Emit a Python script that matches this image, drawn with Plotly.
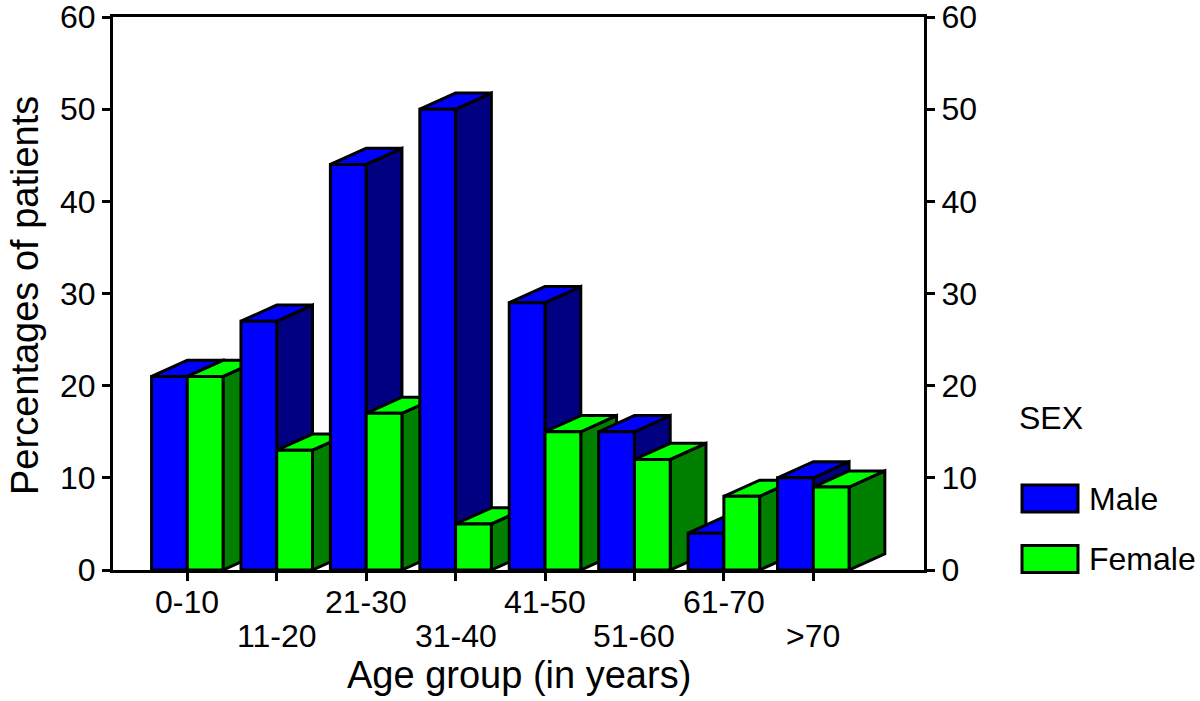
import plotly.graph_objects as go

# ---- data ----
categories = ["0-10", "11-20", "21-30", "31-40", "41-50", "51-60", "61-70", ">70"]
male = [21, 27, 44, 50, 29, 15, 4, 10]
female = [21, 13, 17, 5, 15, 12, 8, 9]
series_names = ["Male", "Female"]
y_ticks = [0, 10, 20, 30, 40, 50, 60]

# ---- style ----
colors = {
    "Male": {"front": "#0000FF", "top": "#0000FF", "side": "#000080"},
    "Female": {"front": "#00FF00", "top": "#00FF00", "side": "#007F00"},
}
W = 0.40      # bar front width (x units)
DX = 0.40     # depth offset x (x units)
DY = 1.75     # depth offset y (y units)
LW = 3
FONT = "Liberation Sans, Arial, Helvetica, sans-serif"
TICK_SIZE = 32
TITLE_SIZE = 38

fig = go.Figure()


def add_poly(xs, ys, color):
    fig.add_trace(go.Scatter(
        x=xs + [xs[0]], y=ys + [ys[0]], mode="lines", fill="toself",
        fillcolor=color, line=dict(color="black", width=LW),
        hoverinfo="skip", showlegend=False))


def add_box(x0, v, c):
    x1 = x0 + W
    add_poly([x1, x1 + DX, x1 + DX, x1], [0, DY, v + DY, v], c["side"])
    add_poly([x0, x0 + DX, x1 + DX, x1], [v, v + DY, v + DY, v], c["top"])
    add_poly([x0, x1, x1, x0], [0, 0, v, v], c["front"])


for i, cat in enumerate(categories):
    add_box(i - W, male[i], colors["Male"])
    add_box(i, female[i], colors["Female"])

L, R, T, B = 113, 924, 17, 570
annotations = []
for i, cat in enumerate(categories):
    annotations.append(dict(
        x=i, y=0, xref="x", yref="paper", text=cat, showarrow=False,
        yanchor="middle", yshift=-(602 - B) if i % 2 == 0 else -(636 - B),
        font=dict(size=TICK_SIZE, family=FONT, color="black")))

annotations.append(dict(x=(519 - L) / (R - L), y=0, xref="paper", yref="paper",
                        text="Age group (in years)", showarrow=False,
                        yanchor="middle", yshift=-(675 - B),
                        font=dict(size=TITLE_SIZE, family=FONT, color="black")))
annotations.append(dict(x=0, y=(B - 296) / (B - T), xref="paper", yref="paper",
                        text="Percentages of patients", showarrow=False,
                        textangle=-90, xanchor="center", xshift=-(L - 25),
                        font=dict(size=TITLE_SIZE, family=FONT, color="black")))


def px_x(p):
    return (p - L) / (R - L)


def px_y(p):
    return (B - p) / (B - T)


annotations.append(dict(x=px_x(1017), y=px_y(418), xref="paper", yref="paper",
                        text="SEX", showarrow=False, xanchor="left", yanchor="middle",
                        font=dict(size=TICK_SIZE, family=FONT, color="black")))
shapes = []
for k, name in enumerate(series_names):
    yc = 498.5 + 60.5 * k
    shapes.append(dict(type="rect", xref="paper", yref="paper",
                       x0=px_x(1022), x1=px_x(1078), y0=px_y(yc + 13.5), y1=px_y(yc - 13.5),
                       fillcolor=colors[name]["front"], line=dict(color="black", width=LW)))
    annotations.append(dict(x=px_x(1087), y=px_y(yc), xref="paper", yref="paper",
                            text=name, showarrow=False, xanchor="left", yanchor="middle",
                            font=dict(size=TICK_SIZE, family=FONT, color="black")))

fig.add_trace(go.Scatter(x=[None], y=[None], yaxis="y2", showlegend=False, hoverinfo="skip"))

axis_common = dict(showgrid=False, zeroline=False, showline=True, linecolor="black",
                   linewidth=3, ticks="outside", ticklen=8, tickwidth=3, tickcolor="black",
                   automargin=False)

fig.update_layout(
    width=1200, height=701,
    margin=dict(l=L, r=1200 - R, t=T, b=701 - B, pad=0),
    plot_bgcolor="white", paper_bgcolor="white",
    showlegend=False,
    xaxis=dict(range=[-0.831, 8.238], tickvals=list(range(len(categories))),
               showticklabels=False, mirror=True, **axis_common),
    yaxis=dict(range=[0, 60], tickvals=y_ticks, ticklabeloverflow="allow",
               tickfont=dict(size=TICK_SIZE, family=FONT, color="black"), **axis_common),
    yaxis2=dict(range=[0, 60], tickvals=y_ticks, overlaying="y", side="right",
                ticklabeloverflow="allow",
                tickfont=dict(size=TICK_SIZE, family=FONT, color="black"), **axis_common),
    annotations=annotations,
    shapes=shapes,
)

fig.write_html("out.html", config={"displayModeBar": False},
               post_script="document.body.style.margin='0';")
